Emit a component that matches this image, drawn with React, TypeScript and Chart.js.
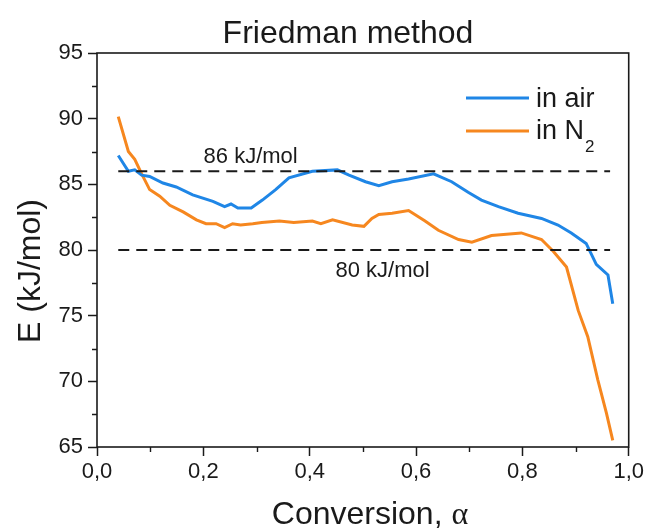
import React, { useEffect, useRef } from "react";
import { Chart, registerables } from "chart.js";

Chart.register(...registerables);

// ---- data ----
const alphaAir = [0.040, 0.059, 0.071, 0.084, 0.099, 0.124, 0.149, 0.180, 0.218, 0.240, 0.252, 0.265, 0.290, 0.311, 0.336, 0.361, 0.405, 0.452, 0.474, 0.505, 0.530, 0.555, 0.586, 0.633, 0.667, 0.698, 0.723, 0.755, 0.792, 0.836, 0.867, 0.892, 0.920, 0.939, 0.961, 0.970];
const eAir = [87.2, 86.0, 86.1, 85.7, 85.6, 85.1, 84.8, 84.2, 83.7, 83.3, 83.5, 83.2, 83.2, 83.8, 84.6, 85.5, 86.0, 86.1, 85.7, 85.2, 84.9, 85.2, 85.4, 85.8, 85.2, 84.4, 83.8, 83.3, 82.8, 82.4, 81.9, 81.3, 80.5, 78.9, 78.1, 75.9];

const alphaN2 = [0.040, 0.059, 0.071, 0.084, 0.099, 0.118, 0.137, 0.162, 0.187, 0.205, 0.224, 0.240, 0.255, 0.270, 0.293, 0.310, 0.343, 0.370, 0.405, 0.421, 0.443, 0.480, 0.502, 0.517, 0.530, 0.555, 0.586, 0.617, 0.642, 0.680, 0.705, 0.742, 0.798, 0.836, 0.858, 0.883, 0.905, 0.923, 0.942, 0.958, 0.970];
const eN2 = [90.15, 87.5, 86.9, 85.8, 84.6, 84.1, 83.4, 82.9, 82.3, 82.0, 82.0, 81.7, 82.0, 81.9, 82.0, 82.1, 82.2, 82.1, 82.2, 82.0, 82.3, 81.9, 81.8, 82.4, 82.7, 82.8, 83.0, 82.2, 81.5, 80.8, 80.6, 81.1, 81.3, 80.8, 79.9, 78.7, 75.4, 73.4, 70.1, 67.6, 65.5];

const seriesNames = ["in air", "in N"];
const seriesSub = ["", "2"];
const refLevels = [86, 80];
const refLabels = ["86 kJ/mol", "80 kJ/mol"];
const refStart = 0.04;
const refEnd = 0.965;

const titleText = "Friedman method";
const xTitleMain = "Conversion, ";
const xTitleGreek = "\u03B1";
const yTitleText = "E (kJ/mol)";

const xMin = 0, xMax = 1;
const yMin = 65, yMax = 95;

const BLUE = "#1f86e6";
const ORANGE = "#f6871f";
const INK = "#1a1a1a";
const SANS = "'Liberation Sans', Arial, sans-serif";
const SERIF = "'Liberation Serif', 'Times New Roman', serif";

const toPts = (xs: number[], ys: number[]) => xs.map((x, i) => ({ x, y: ys[i] }));

const decorPlugin = {
  id: "decor",
  afterDraw(chart: any) {
    const { ctx, chartArea: a, scales } = chart;
    const xs = scales.x, ys = scales.y;
    ctx.save();
    // frame
    ctx.strokeStyle = INK;
    ctx.lineWidth = 1.6;
    ctx.strokeRect(a.left, a.top, a.right - a.left, a.bottom - a.top);
    // minor ticks
    ctx.lineWidth = 1.4;
    ctx.beginPath();
    for (let v = 67.5; v < yMax; v += 5) {
      const py = Math.round(ys.getPixelForValue(v)) + 0.5;
      ctx.moveTo(a.left - 5, py);
      ctx.lineTo(a.left, py);
    }
    for (let v = 0.1; v < xMax; v += 0.2) {
      const px = Math.round(xs.getPixelForValue(v)) + 0.5;
      ctx.moveTo(px, a.bottom);
      ctx.lineTo(px, a.bottom + 5);
    }
    ctx.stroke();

    // reference labels
    ctx.fillStyle = INK;
    ctx.font = `22px ${SANS}`;
    ctx.textAlign = "center";
    ctx.textBaseline = "alphabetic";
    ctx.fillText(refLabels[0], xs.getPixelForValue(0.289), ys.getPixelForValue(refLevels[0]) - 8);
    ctx.fillText(refLabels[1], xs.getPixelForValue(0.537), ys.getPixelForValue(refLevels[1]) + 27);

    // title
    ctx.font = `32px ${SANS}`;
    ctx.fillText(titleText, 348, 43);

    // x title
    ctx.font = `32px ${SANS}`;
    const wMain = ctx.measureText(xTitleMain).width;
    ctx.font = `32px ${SERIF}`;
    const wG = ctx.measureText(xTitleGreek).width;
    const startX = 370 - (wMain + wG) / 2;
    ctx.textAlign = "left";
    ctx.font = `32px ${SANS}`;
    ctx.fillText(xTitleMain, startX, 524);
    ctx.font = `32px ${SERIF}`;
    ctx.fillText(xTitleGreek, startX + wMain, 524);

    // y title
    ctx.save();
    ctx.translate(40, 271);
    ctx.rotate(-Math.PI / 2);
    ctx.textAlign = "center";
    ctx.font = `32px ${SANS}`;
    ctx.fillText(yTitleText, 0, 0);
    ctx.restore();

    // legend
    const colors = [BLUE, ORANGE];
    const lineY = [98, 131];
    const baseY = [107, 139];
    for (let i = 0; i < 2; i++) {
      ctx.strokeStyle = colors[i];
      ctx.lineWidth = 3;
      ctx.beginPath();
      ctx.moveTo(466, lineY[i]);
      ctx.lineTo(529, lineY[i]);
      ctx.stroke();
      ctx.fillStyle = INK;
      ctx.textAlign = "left";
      ctx.font = `27px ${SANS}`;
      ctx.fillText(seriesNames[i], 536, baseY[i]);
      if (seriesSub[i]) {
        const w = ctx.measureText(seriesNames[i]).width;
        ctx.font = `17px ${SANS}`;
        ctx.fillText(seriesSub[i], 536 + w + 1, baseY[i] + 13);
      }
    }
    ctx.restore();
  },
};

export default function App() {
  const ref = useRef<HTMLCanvasElement | null>(null);
  useEffect(() => {
    if (!ref.current) return;
    const refDatasets = refLevels.map((lv) => ({
      label: "ref" + lv,
      data: [{ x: refStart, y: lv }, { x: refEnd, y: lv }],
      borderColor: INK,
      borderWidth: 2,
      borderDash: [11, 7],
      pointRadius: 0,
      fill: false,
    }));
    const chart = new Chart(ref.current, {
      type: "line",
      data: {
        datasets: [
          ...refDatasets,
          {
            label: "in air",
            data: toPts(alphaAir, eAir),
            borderColor: BLUE,
            borderWidth: 3,
            pointRadius: 0,
            tension: 0,
            fill: false,
          },
          {
            label: "in N2",
            data: toPts(alphaN2, eN2),
            borderColor: ORANGE,
            borderWidth: 3,
            pointRadius: 0,
            tension: 0,
            fill: false,
          },
        ],
      },
      options: {
        animation: false,
        responsive: true,
        maintainAspectRatio: false,
        layout: { padding: { top: 53, right: 16, left: 0, bottom: 0 } },
        plugins: { legend: { display: false }, title: { display: false }, tooltip: { enabled: false } },
        scales: {
          x: {
            type: "linear",
            min: xMin,
            max: xMax,
            afterFit: (s: any) => { s.height = 81; },
            border: { display: false },
            grid: {
              display: true,
              drawOnChartArea: false,
              drawTicks: true,
              tickLength: 9,
              tickWidth: 1.5,
              tickColor: (c: any) => (Math.round(c.tick.value * 10) % 2 === 0 ? INK : "transparent"),
            },
            ticks: {
              stepSize: 0.1,
              autoSkip: false,
              maxRotation: 0,
              padding: 3,
              color: INK,
              font: { size: 22, family: SANS },
              callback: (v: any) => {
                const n = Math.round(Number(v) * 10);
                return n % 2 === 0 ? (n / 10).toFixed(1).replace(".", ",") : "";
              },
            },
          },
          y: {
            type: "linear",
            min: yMin,
            max: yMax,
            afterFit: (s: any) => { s.width = 97; },
            border: { display: false },
            grid: {
              display: true,
              drawOnChartArea: false,
              drawTicks: true,
              tickLength: 9,
              tickWidth: 1.5,
              tickColor: INK,
            },
            ticks: {
              stepSize: 5,
              autoSkip: false,
              padding: 5,
              color: INK,
              font: { size: 22, family: SANS },
              callback: (v: any) => String(v),
            },
          },
        },
      },
      plugins: [decorPlugin],
    } as any);
    return () => chart.destroy();
  }, []);
  return (
    <div style={{ position: "absolute", left: 0, top: 0, width: 647, height: 528, background: "#fff" }}>
      <canvas ref={ref} />
    </div>
  );
}
